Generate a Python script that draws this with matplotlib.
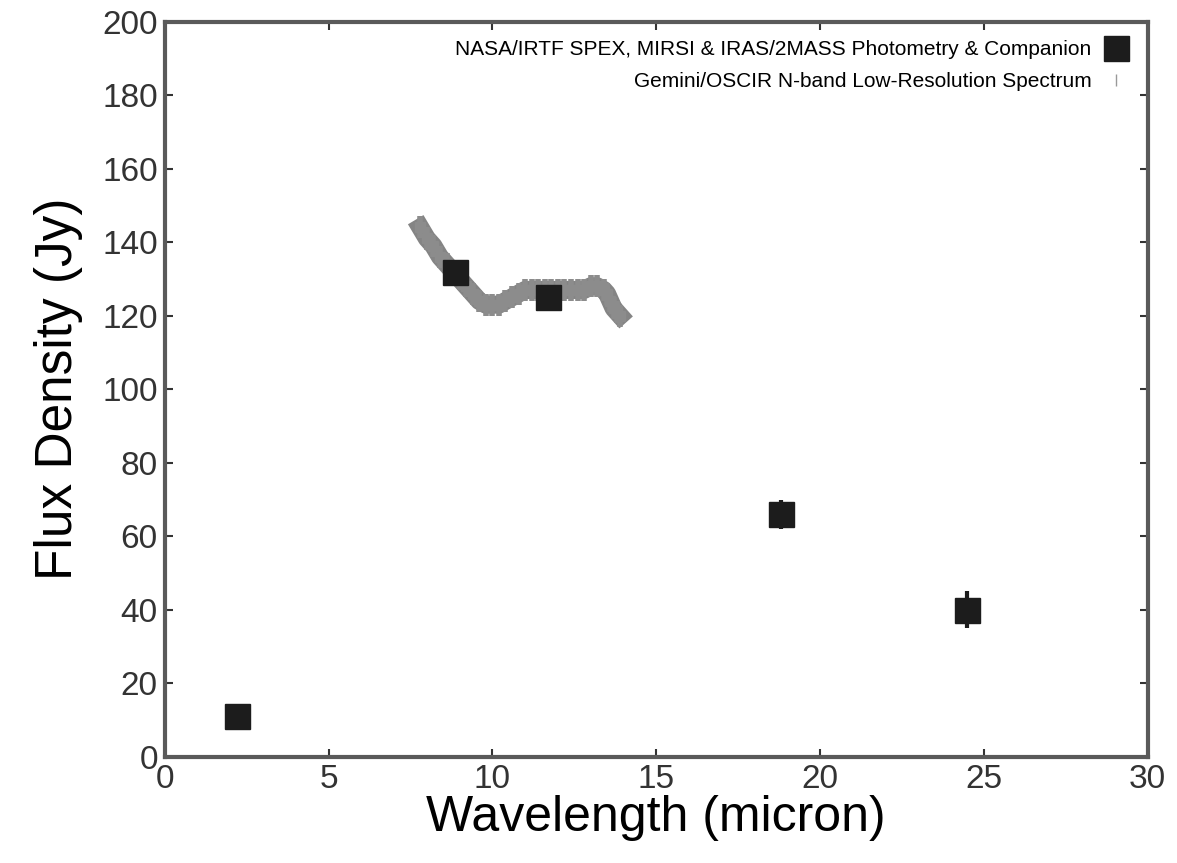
import numpy as np
import matplotlib.pyplot as plt
from matplotlib.lines import Line2D

plt.rcParams['font.family'] = ['Liberation Sans', 'DejaVu Sans']

# photometry
phot_wave = [2.2, 8.85, 11.7, 18.8, 24.5]
phot_flux = [11, 132, 125, 66, 40]
phot_err = [1, 3, 3, 4, 5]

# low-resolution spectrum
spec_wave = [7.8, 8.0, 8.2, 8.4, 8.6, 8.8, 9.0, 9.2, 9.4, 9.6, 9.8, 10.0, 10.2, 10.4,
             10.6, 10.8, 11.0, 11.2, 11.4, 11.6, 11.8, 12.0, 12.2, 12.4, 12.6, 12.8,
             13.0, 13.2, 13.4, 13.5, 13.6, 13.7, 13.8, 13.9]
spec_flux = [144, 141, 139, 136, 134, 132, 130, 128, 126, 124, 123, 123, 123, 124,
             125, 126, 127, 127, 127, 127, 127, 127, 127, 127, 127, 127,
             128, 128, 127, 126, 124, 122, 121, 120]
spec_err = [3, 3, 3, 3, 3, 3, 3, 3, 3, 3, 3, 3, 3, 3,
            3, 3, 3, 3, 3, 3, 3, 3, 3, 3, 3, 3,
            3, 3, 3, 3, 3, 3, 3, 3]

labels = ["NASA/IRTF SPEX, MIRSI & IRAS/2MASS Photometry & Companion",
          "Gemini/OSCIR N-band Low-Resolution Spectrum"]

fig = plt.figure(figsize=(11.77, 8.63), dpi=100)
ax = fig.add_axes([0.140, 0.123, 0.835, 0.852])

ax.plot(spec_wave, spec_flux, '-', color='#848484', linewidth=13, zorder=2)
ax.errorbar(spec_wave, spec_flux, yerr=spec_err, fmt='s', color='#8c8c8c',
            markersize=7, elinewidth=4, capsize=0, zorder=2)
ax.errorbar(phot_wave, phot_flux, yerr=phot_err, fmt='s', color='#1c1c1c',
            markersize=18, elinewidth=3, capsize=0, zorder=3)

ax.set_xlim(0, 30)
ax.set_ylim(0, 200)
ax.set_xticks(np.arange(0, 31, 5))
ax.set_yticks(np.arange(0, 201, 20))
ax.tick_params(direction='in', top=True, right=True, labelsize=24, length=6,
               width=1.5, colors='#333333', pad=5)
for s in ax.spines.values():
    s.set_linewidth(3)
    s.set_color('#5a5a5a')

ax.set_xlabel("Wavelength (micron)", fontsize=36, labelpad=0)
ax.set_ylabel("Flux Density (Jy)", fontsize=37, labelpad=14)

handles = [Line2D([], [], ls='none', marker='s', color='#1c1c1c', markersize=18),
           Line2D([], [], ls='none', marker='|', color='#999999', markersize=8)]
leg = ax.legend(handles, labels, loc='upper right', frameon=False, markerfirst=False,
                fontsize=15, handlelength=1.2, borderaxespad=0.5, labelspacing=0.6,
                handletextpad=0.6)

fig.savefig("out.png", dpi=100)
